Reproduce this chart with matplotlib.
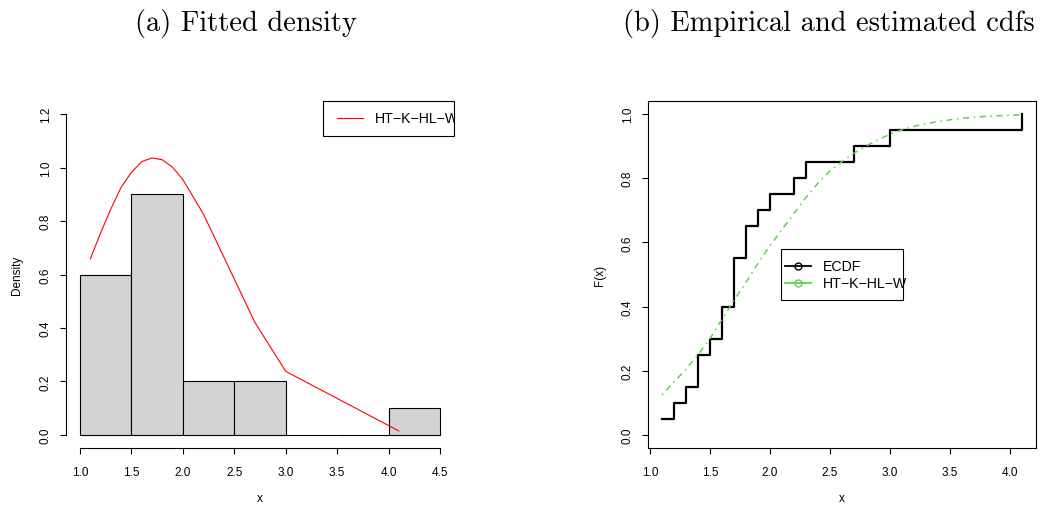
import matplotlib.pyplot as plt
from matplotlib.patches import Rectangle

plt.rcParams['font.family'] = ['Liberation Sans', 'DejaVu Sans']

# sorted distinct observations and the ECDF level reached at each one
x_obs = [1.1, 1.2, 1.3, 1.4, 1.5, 1.6, 1.7, 1.8, 1.9, 2.0, 2.2, 2.3, 2.7, 3.0, 4.1]
ecdf = [0.05, 0.10, 0.15, 0.25, 0.30, 0.40, 0.55, 0.65, 0.70, 0.75, 0.80, 0.85, 0.90, 0.95, 1.00]

# fitted HT-K-HL-W density evaluated at the observations
dens_fit = [0.658, 0.755, 0.845, 0.926, 0.982, 1.022, 1.036, 1.029, 1.001, 0.955,
            0.826, 0.745, 0.421, 0.238, 0.015]

# histogram on the density scale
bin_edges = [1.0, 1.5, 2.0, 2.5, 3.0, 3.5, 4.0, 4.5]
bin_density = [0.6, 0.9, 0.2, 0.2, 0.0, 0.0, 0.1]

# fitted cdf
x_grid = [1.1, 1.2, 1.3, 1.4, 1.5, 1.6, 1.7, 1.8, 1.9, 2.0, 2.1, 2.2, 2.3, 2.4, 2.5,
          2.6, 2.7, 2.8, 2.9, 3.0, 3.1, 3.2, 3.4, 3.6, 3.8, 4.1]
cdf_fit = [0.125, 0.165, 0.205, 0.25, 0.30, 0.36, 0.42, 0.475, 0.535, 0.59, 0.64, 0.69,
           0.74, 0.785, 0.823, 0.852, 0.878, 0.90, 0.92, 0.937, 0.951, 0.962, 0.977,
           0.987, 0.993, 0.998]

W, H = 1041, 506
fig = plt.figure(figsize=(W / 100, H / 100), dpi=100)

def px_axes(x0, x1, y0, y1):
    # pixel box (top-left origin) -> figure fraction
    return fig.add_axes([x0 / W, 1 - y1 / H, (x1 - x0) / W, (y1 - y0) / H])

tick_fs = 8.5
lab_fs = 8.5
leg_fs = 10.2

def style(ax):
    ax.tick_params(direction='out', length=4.3, width=0.8, labelsize=tick_fs)
    ax.tick_params(axis='x', pad=8.5)
    ax.tick_params(axis='y', labelrotation=90, pad=5.5)
    for lab in ax.get_yticklabels():
        lab.set_va('center')

# ---- (a) histogram + fitted density
ax1 = px_axes(65.6, 454.4, 102.2, 448.8)
widths = [b - a for a, b in zip(bin_edges[:-1], bin_edges[1:])]
ax1.bar(bin_edges[:-1], bin_density, width=widths, align='edge',
        color='#D3D3D3', edgecolor='black', linewidth=0.8)
ax1.plot(x_obs, dens_fit, color='red', lw=0.8)
ax1.set_xlim(0.86, 4.64)
ax1.set_ylim(-0.048, 1.248)
ax1.set_xticks([1.0, 1.5, 2.0, 2.5, 3.0, 3.5, 4.0, 4.5])
ax1.set_yticks([0.0, 0.2, 0.4, 0.6, 0.8, 1.0, 1.2])
ax1.set_xticklabels(['1.0', '1.5', '2.0', '2.5', '3.0', '3.5', '4.0', '4.5'])
ax1.set_yticklabels(['0.0', '0.2', '0.4', '0.6', '0.8', '1.0', '1.2'])
for s in ['top', 'right']:
    ax1.spines[s].set_visible(False)
ax1.spines['left'].set_bounds(0.0, 1.2)
ax1.spines['bottom'].set_bounds(1.0, 4.5)
for s in ['left', 'bottom']:
    ax1.spines[s].set_linewidth(0.8)
style(ax1)
ax1.text(0.5, -0.145, 'x', transform=ax1.transAxes, ha='center', va='center', fontsize=lab_fs)
ax1.text(-0.1258, 0.5, 'Density', transform=ax1.transAxes, ha='center', va='center',
         rotation=90, fontsize=lab_fs)

# legend box, text runs past the plot edge and gets clipped
ax1.add_patch(Rectangle((0.662, 0.9005), 0.338, 0.0995, transform=ax1.transAxes,
                        facecolor='none', edgecolor='black', lw=0.8, clip_on=False))
ax1.plot([0.698, 0.765], [0.9507, 0.9507], transform=ax1.transAxes, color='red', lw=0.8)
ax1.text(0.796, 0.9507, 'HT\u2212K\u2212HL\u2212W', transform=ax1.transAxes,
         ha='left', va='center', fontsize=leg_fs, clip_on=True)

# ---- (b) ECDF vs fitted cdf
ax2 = px_axes(647.6, 1036.4, 102.2, 448.8)
ax2.plot(x_obs, ecdf, drawstyle='steps-post', color='black', lw=1.6)
ax2.plot(x_grid, cdf_fit, color='#61D04F', lw=1.1, dashes=(1, 3, 4, 3))
ax2.set_xlim(0.98, 4.22)
ax2.set_ylim(-0.04, 1.04)
ax2.set_xticks([1.0, 1.5, 2.0, 2.5, 3.0, 3.5, 4.0])
ax2.set_yticks([0.0, 0.2, 0.4, 0.6, 0.8, 1.0])
ax2.set_xticklabels(['1.0', '1.5', '2.0', '2.5', '3.0', '3.5', '4.0'])
ax2.set_yticklabels(['0.0', '0.2', '0.4', '0.6', '0.8', '1.0'])
for s in ax2.spines.values():
    s.set_linewidth(0.8)
style(ax2)
ax2.text(0.5, -0.145, 'x', transform=ax2.transAxes, ha='center', va='center', fontsize=lab_fs)
ax2.text(-0.1224, 0.5, 'F(x)', transform=ax2.transAxes, ha='center', va='center',
         rotation=90, fontsize=lab_fs)

ax2.add_patch(Rectangle((0.344, 0.4264), 0.314, 0.1463, transform=ax2.transAxes,
                        facecolor='white', edgecolor='black', lw=0.8))
ax2.plot([0.3534, 0.4203], [0.5254, 0.5254], transform=ax2.transAxes, color='black', lw=1.3)
ax2.plot([0.386], [0.5254], transform=ax2.transAxes, marker='o', ms=5, mfc='none',
         mec='black', mew=1.0)
ax2.plot([0.3534, 0.4203], [0.4755, 0.4755], transform=ax2.transAxes, color='#61D04F', lw=1.3)
ax2.plot([0.386], [0.4755], transform=ax2.transAxes, marker='o', ms=5, mfc='none',
         mec='#61D04F', mew=1.0)
ax2.text(0.452, 0.5254, 'ECDF', transform=ax2.transAxes, ha='left', va='center', fontsize=leg_fs)
ax2.text(0.452, 0.4755, 'HT\u2212K\u2212HL\u2212W', transform=ax2.transAxes, ha='left',
         va='center', fontsize=leg_fs)

# panel captions
fig.text(246 / W, 1 - 23 / H, '(a) Fitted density', family='cmr10', fontsize=20.5,
         ha='center', va='center')
fig.text(828.5 / W, 1 - 23 / H, '(b) Empirical and estimated cdfs', family='cmr10',
         fontsize=20.5, ha='center', va='center')

fig.savefig('out.png', dpi=100)
